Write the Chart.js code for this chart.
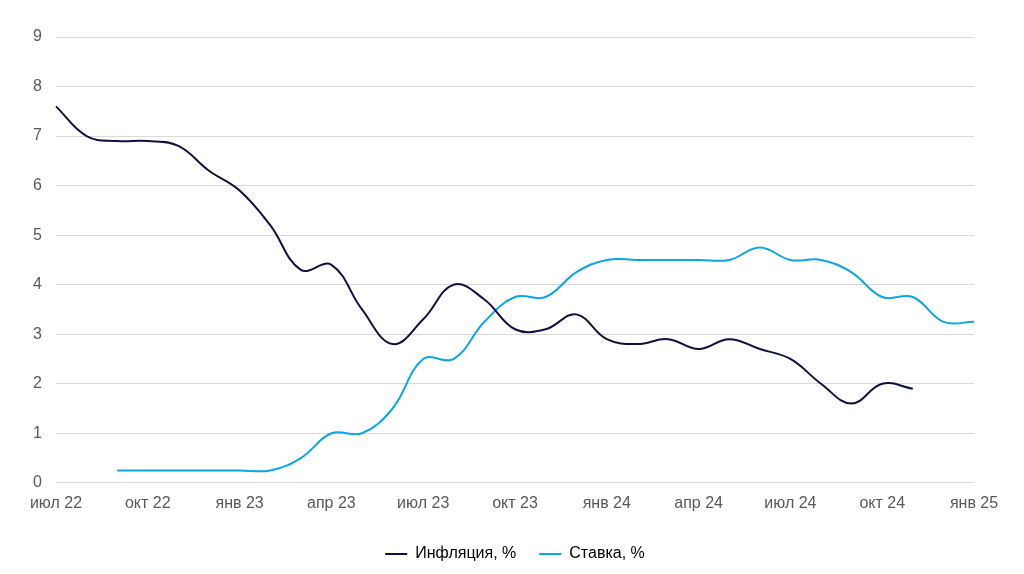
<!DOCTYPE html>
<html>
<head>
<meta charset="utf-8">
<script src="https://cdn.jsdelivr.net/npm/chart.js@4"></script>
<style>
  html, body { margin: 0; padding: 0; background: #fff; }
  #wrap { width: 1024px; height: 574px; }
</style>
</head>
<body>
<div id="wrap"><canvas id="LineGraph"></canvas></div>
<script>
const months = [
  "июл 22", "авг 22", "сен 22", "окт 22", "ноя 22", "дек 22",
  "янв 23", "фев 23", "мар 23", "апр 23", "май 23", "июн 23",
  "июл 23", "авг 23", "сен 23", "окт 23", "ноя 23", "дек 23",
  "янв 24", "фев 24", "мар 24", "апр 24", "май 24", "июн 24",
  "июл 24", "авг 24", "сен 24", "окт 24", "ноя 24", "дек 24",
  "янв 25",
];
const inflation = [
  7.6, 7.0, 6.9, 6.9, 6.8, 6.3,
  5.9, 5.2, 4.3, 4.4, 3.5, 2.8,
  3.3, 4.0, 3.7, 3.1, 3.1, 3.4,
  2.9, 2.8, 2.9, 2.7, 2.9, 2.7,
  2.5, 2.0, 1.6, 2.0, 1.9, null,
  null,
];
const rate = [
  null, null, 0.25, 0.25, 0.25, 0.25,
  0.25, 0.25, 0.5, 1.0, 1.0, 1.5,
  2.5, 2.5, 3.25, 3.75, 3.75, 4.25,
  4.5, 4.5, 4.5, 4.5, 4.5, 4.75,
  4.5, 4.5, 4.25, 3.75, 3.75, 3.25,
  3.25,
];
const yTicks = [0, 1, 2, 3, 4, 5, 6, 7, 8, 9];

const LineGraph = document.getElementById("LineGraph");

Chart.defaults.font.family = "'Liberation Sans', Arial, sans-serif";
Chart.defaults.font.size = 16;

new Chart(LineGraph, {
  type: "line",
  data: {
    labels: months,
    datasets: [
      {
        label: "Инфляция, %",
        data: inflation,
        borderColor: "#10103f",
        backgroundColor: "#10103f",
        borderWidth: 2,
        pointRadius: 0,
        tension: 0.4,
      },
      {
        label: "Ставка, %",
        data: rate,
        borderColor: "#0ea5e0",
        backgroundColor: "#0ea5e0",
        borderWidth: 2,
        pointRadius: 0,
        tension: 0.4,
      },
    ],
  },
  options: {
    responsive: true,
    maintainAspectRatio: false,
    animation: false,
    layout: {
      padding: { left: 10, right: 50, top: 37, bottom: 2 },
    },
    plugins: {
      legend: {
        position: "bottom",
        fullSize: false,
        labels: {
          color: "#000",
          boxWidth: 22,
          boxHeight: 0,
          padding: 23,
          font: { size: 16 },
        },
      },
      tooltip: { enabled: false },
    },
    scales: {
      x: {
        offset: false,
        grid: { display: false },
        border: { display: false },
        afterFit: function (scale) {
          scale.height += 7;
        },
        ticks: {
          color: "#595959",
          autoSkip: false,
          maxRotation: 0,
          padding: 3,
          callback: function (val, i) {
            return i % 3 === 0 ? months[i] : "";
          },
        },
      },
      y: {
        min: 0,
        max: 9,
        afterBuildTicks: function (scale) {
          scale.ticks = yTicks.map((v) => ({ value: v }));
        },
        afterFit: function (scale) {
          scale.width = 46;
        },
        grid: {
          color: "#d9d9d9",
          drawTicks: false,
        },
        border: { display: false },
        ticks: {
          color: "#595959",
          padding: 14,
        },
      },
    },
  },
});
</script>
</body>
</html>
